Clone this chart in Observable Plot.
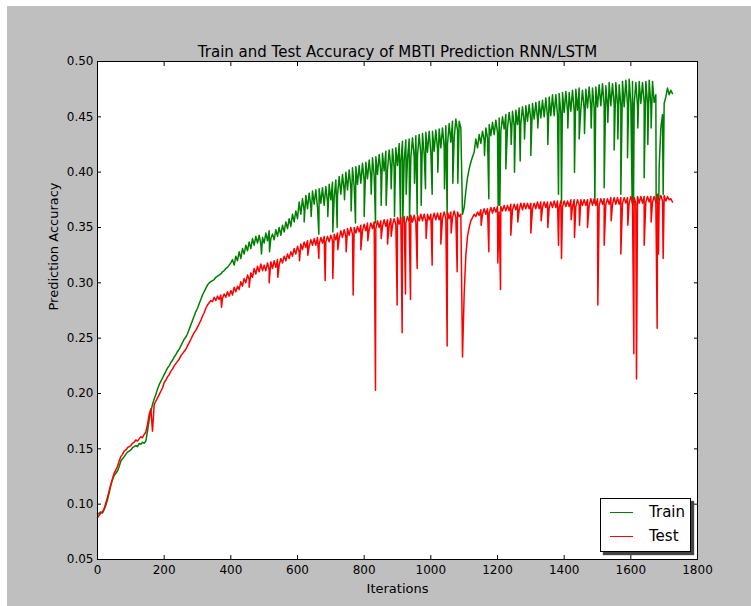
<!DOCTYPE html>
<html><head><meta charset="utf-8">
<script src="https://cdn.jsdelivr.net/npm/d3@7"></script>
<script src="https://cdn.jsdelivr.net/npm/@observablehq/plot@0.6"></script>
<style>
body{margin:0;background:#fff;}
#wrap{position:relative;width:751px;height:606px;overflow:hidden;}
#bg{position:absolute;left:7px;top:6px;right:0;bottom:0;background:#bfbfbf;}
#chart{position:absolute;left:0;top:0;}
.legend{position:absolute;left:600px;top:498px;width:91px;height:54px;background:#fff;border:1px solid #000;box-shadow:3px 3px 1px #444;box-sizing:border-box;font:15px "DejaVu Sans",sans-serif;color:#000;}
.legend .row{position:absolute;left:9px;height:20px;display:flex;align-items:center;}
.legend .sw{width:23px;height:0;border-top:1.2px solid;margin-right:16px;}
</style></head>
<body>
<div id="wrap"><div id="bg"></div><div id="chart"></div>
<div class="legend" id="legend"></div></div>
<script>
const title = "Train and Test Accuracy of MBTI Prediction RNN/LSTM";
const xLabel = "Iterations";
const yLabel = "Prediction Accuracy";
const seriesNames = ["Train", "Test"];
const seriesColors = ["#008000", "#ff0000"];
const xTicks = [0, 200, 400, 600, 800, 1000, 1200, 1400, 1600, 1800];
const yTicks = [0.05, 0.10, 0.15, 0.20, 0.25, 0.30, 0.35, 0.40, 0.45, 0.50];

// sampled every 5 iterations, 0..1725 (one row = 100 iterations)
const iterStep = 5;
const trainAcc = [
0.091,0.092,0.093,0.092,0.095,0.099,0.104,0.110,0.117,0.122,0.126,0.128,0.130,0.134,0.139,0.141,0.143,0.145,0.147,0.148,
0.149,0.151,0.152,0.153,0.152,0.155,0.154,0.156,0.155,0.157,0.166,0.176,0.184,0.190,0.195,0.199,0.204,0.208,0.211,0.214,
0.217,0.220,0.223,0.225,0.228,0.230,0.233,0.235,0.238,0.240,0.243,0.246,0.249,0.251,0.254,0.258,0.262,0.266,0.270,0.274,
0.277,0.281,0.285,0.289,0.292,0.295,0.298,0.300,0.301,0.302,0.303,0.305,0.306,0.307,0.308,0.310,0.311,0.313,0.314,0.316,
0.318,0.321,0.316,0.324,0.320,0.328,0.322,0.331,0.326,0.334,0.329,0.337,0.331,0.340,0.334,0.342,0.336,0.343,0.335,0.341,
0.336,0.345,0.338,0.347,0.340,0.344,0.339,0.348,0.342,0.350,0.343,0.352,0.346,0.355,0.349,0.358,0.351,0.362,0.355,0.365,
0.358,0.373,0.362,0.376,0.365,0.379,0.367,0.381,0.369,0.383,0.371,0.384,0.368,0.385,0.372,0.386,0.370,0.387,0.373,0.389,
0.375,0.391,0.377,0.393,0.379,0.396,0.380,0.398,0.383,0.400,0.384,0.402,0.386,0.404,0.387,0.405,0.389,0.406,0.390,0.408,
0.392,0.409,0.394,0.411,0.395,0.413,0.397,0.414,0.398,0.416,0.400,0.417,0.401,0.419,0.402,0.420,0.403,0.421,0.404,0.422,
0.406,0.426,0.409,0.428,0.410,0.429,0.412,0.430,0.413,0.431,0.414,0.433,0.415,0.434,0.416,0.435,0.417,0.436,0.418,0.437,
0.418,0.437,0.419,0.438,0.421,0.439,0.422,0.440,0.423,0.442,0.425,0.444,0.427,0.446,0.430,0.448,0.438,0.446,0.440,0.362,
0.368,0.383,0.395,0.403,0.409,0.414,0.418,0.430,0.422,0.434,0.426,0.437,0.429,0.440,0.431,0.443,0.433,0.445,0.434,0.447,
0.436,0.449,0.437,0.450,0.439,0.452,0.440,0.454,0.441,0.455,0.442,0.456,0.443,0.458,0.444,0.459,0.445,0.460,0.446,0.461,
0.447,0.462,0.448,0.463,0.448,0.464,0.449,0.465,0.450,0.467,0.450,0.468,0.451,0.470,0.451,0.470,0.452,0.471,0.453,0.472,
0.454,0.473,0.455,0.472,0.455,0.474,0.456,0.475,0.456,0.476,0.457,0.474,0.457,0.475,0.458,0.477,0.458,0.476,0.458,0.477,
0.459,0.479,0.460,0.480,0.460,0.478,0.459,0.481,0.460,0.480,0.461,0.481,0.461,0.479,0.460,0.482,0.459,0.483,0.461,0.484,
0.462,0.482,0.461,0.481,0.460,0.482,0.462,0.481,0.463,0.482,0.462,0.483,0.461,0.482,0.463,0.470,0.380,0.405,0.440,0.452,
0.462,0.468,0.476,0.470,0.474,0.471];
const testAcc = [
0.088,0.090,0.092,0.093,0.096,0.101,0.106,0.112,0.118,0.123,0.128,0.131,0.134,0.139,0.143,0.145,0.148,0.149,0.151,0.152,
0.153,0.155,0.156,0.158,0.157,0.159,0.161,0.160,0.163,0.165,0.172,0.181,0.186,0.166,0.190,0.193,0.196,0.199,0.202,0.205,
0.210,0.212,0.215,0.217,0.220,0.222,0.225,0.227,0.229,0.231,0.234,0.236,0.238,0.240,0.243,0.246,0.249,0.252,0.255,0.257,
0.260,0.263,0.266,0.270,0.273,0.277,0.280,0.282,0.284,0.283,0.287,0.284,0.288,0.285,0.289,0.286,0.290,0.287,0.292,0.288,
0.293,0.289,0.296,0.292,0.297,0.294,0.301,0.297,0.304,0.300,0.307,0.303,0.309,0.305,0.313,0.308,0.315,0.310,0.317,0.311,
0.316,0.311,0.318,0.312,0.319,0.313,0.320,0.314,0.321,0.316,0.322,0.318,0.324,0.320,0.326,0.322,0.328,0.324,0.331,0.326,
0.333,0.328,0.335,0.330,0.337,0.332,0.338,0.333,0.339,0.334,0.340,0.334,0.341,0.335,0.341,0.336,0.342,0.337,0.342,0.337,
0.343,0.338,0.344,0.339,0.345,0.340,0.347,0.341,0.348,0.342,0.349,0.343,0.350,0.344,0.350,0.345,0.351,0.346,0.352,0.347,
0.353,0.347,0.354,0.348,0.354,0.349,0.355,0.349,0.356,0.350,0.356,0.351,0.357,0.351,0.357,0.352,0.358,0.352,0.358,0.353,
0.359,0.353,0.359,0.354,0.360,0.354,0.360,0.355,0.361,0.355,0.361,0.355,0.361,0.356,0.362,0.356,0.362,0.356,0.362,0.357,
0.362,0.357,0.363,0.357,0.363,0.357,0.363,0.358,0.364,0.358,0.364,0.358,0.364,0.359,0.365,0.359,0.364,0.360,0.362,0.233,
0.290,0.325,0.342,0.350,0.356,0.359,0.362,0.360,0.364,0.361,0.366,0.362,0.367,0.362,0.367,0.363,0.368,0.363,0.368,0.364,
0.369,0.364,0.369,0.365,0.370,0.365,0.370,0.365,0.371,0.366,0.371,0.366,0.371,0.366,0.372,0.366,0.372,0.367,0.372,0.367,
0.372,0.367,0.372,0.367,0.373,0.367,0.373,0.368,0.373,0.368,0.373,0.368,0.373,0.368,0.374,0.368,0.374,0.368,0.374,0.369,
0.374,0.369,0.374,0.369,0.375,0.369,0.375,0.369,0.375,0.370,0.375,0.370,0.375,0.370,0.375,0.370,0.376,0.370,0.376,0.370,
0.376,0.370,0.376,0.371,0.376,0.371,0.376,0.371,0.377,0.371,0.377,0.371,0.377,0.371,0.377,0.372,0.377,0.372,0.377,0.372,
0.378,0.372,0.377,0.372,0.378,0.372,0.378,0.372,0.378,0.373,0.378,0.373,0.378,0.373,0.378,0.373,0.379,0.374,0.379,0.374,
0.379,0.374,0.378,0.375,0.376,0.373];
// sharp single-step drops: [iteration, accuracy]
const trainDips = [
[492,0.326],[516,0.328],[620,0.355],[641,0.360],[664,0.344],[691,0.360],[706,0.346],[719,0.350],
[741,0.375],[761,0.365],[774,0.354],[800,0.360],[821,0.380],[834,0.354],[851,0.370],[866,0.370],
[881,0.385],[891,0.360],[909,0.354],[916,0.356],[926,0.380],[936,0.356],[951,0.390],[959,0.362],
[971,0.370],[984,0.385],[1004,0.380],[1021,0.400],[1041,0.385],[1049,0.361],[1066,0.390],[1081,0.390],
[1161,0.415],[1174,0.376],[1202,0.370],[1207,0.370],[1225,0.403],[1241,0.425],[1251,0.400],[1268,0.410],
[1281,0.430],[1300,0.415],[1321,0.440],[1351,0.425],[1383,0.380],[1392,0.372],[1411,0.440],[1431,0.400],
[1445,0.430],[1461,0.435],[1481,0.440],[1492,0.372],[1520,0.386],[1531,0.445],[1550,0.420],[1561,0.430],
[1570,0.380],[1590,0.413],[1604,0.372],[1608,0.370],[1621,0.440],[1640,0.395],[1651,0.425],[1661,0.440],
[1676,0.372],[1684,0.375],[1697,0.380]];
const testDips = [
[372,0.278],[455,0.296],[515,0.300],[541,0.305],[606,0.320],[631,0.325],[664,0.322],[683,0.302],
[706,0.304],[721,0.330],[746,0.328],[767,0.289],[790,0.330],[811,0.338],[834,0.203],[851,0.340],
[870,0.335],[881,0.342],[899,0.280],[914,0.255],[924,0.290],[939,0.285],[959,0.313],[986,0.340],
[1004,0.316],[1030,0.335],[1049,0.243],[1061,0.345],[1079,0.310],[1151,0.352],[1174,0.328],[1201,0.318],
[1209,0.294],[1240,0.343],[1261,0.355],[1300,0.345],[1331,0.356],[1351,0.350],[1383,0.334],[1392,0.322],
[1421,0.357],[1431,0.341],[1446,0.352],[1470,0.350],[1501,0.280],[1520,0.334],[1541,0.356],[1570,0.326],
[1591,0.352],[1609,0.236],[1617,0.213],[1640,0.334],[1661,0.355],[1679,0.259],[1683,0.326],[1697,0.322]];

function build(vals, dips) {
  const pts = vals.map((v, i) => ({iter: i * iterStep, acc: v}));
  for (const [it, v] of dips) pts.push({iter: it, acc: v});
  return pts.sort((a, b) => a.iter - b.iter);
}
const train = build(trainAcc, trainDips);
const test = build(testAcc, testDips);

const FONT = '"DejaVu Sans",sans-serif';
const chart = Plot.plot({
  width: 751, height: 606,
  marginLeft: 97, marginRight: 54, marginTop: 61, marginBottom: 47,
  style: {background: "transparent", fontFamily: FONT, fontSize: "12px", color: "#000"},
  x: {domain: [0, 1800]},
  y: {domain: [0.05, 0.5]},
  marks: [
    Plot.frame({fill: "white", stroke: null}),
    Plot.line(train, {x: "iter", y: "acc", stroke: seriesColors[0], strokeWidth: 1.5}),
    Plot.line(test, {x: "iter", y: "acc", stroke: seriesColors[1], strokeWidth: 1.5}),
    Plot.frame({stroke: "#000", strokeWidth: 1}),
    Plot.axisX(xTicks, {anchor: "bottom", tickSize: -4, tickPadding: 10, tickFormat: d => String(d), label: null, fontSize: 12}),
    Plot.axisX(xTicks, {anchor: "top", tickSize: -4, tickFormat: () => "", label: null}),
    Plot.axisY(yTicks, {anchor: "left", tickSize: -4, tickPadding: 8, tickFormat: d3.format(".2f"), label: null, fontSize: 12}),
    Plot.axisY(yTicks, {anchor: "right", tickSize: -4, tickFormat: () => "", label: null}),
    Plot.text([title], {frameAnchor: "top", lineAnchor: "bottom", dy: -5, fontSize: 15, text: d => d}),
    Plot.text([xLabel], {frameAnchor: "bottom", lineAnchor: "top", dy: 24, fontSize: 13, text: d => d}),
    Plot.text([yLabel], {frameAnchor: "left", rotate: -90, dx: -44, fontSize: 13, text: d => d})
  ]
});
document.getElementById("chart").appendChild(chart);

const leg = document.getElementById("legend");
seriesNames.forEach((name, i) => {
  const row = document.createElement("div");
  row.className = "row";
  row.style.top = (3 + i * 24) + "px";
  const sw = document.createElement("div");
  sw.className = "sw";
  sw.style.borderTopColor = seriesColors[i];
  row.appendChild(sw);
  const t = document.createElement("span");
  t.textContent = name;
  row.appendChild(t);
  leg.appendChild(row);
});
</script>
</body></html>
